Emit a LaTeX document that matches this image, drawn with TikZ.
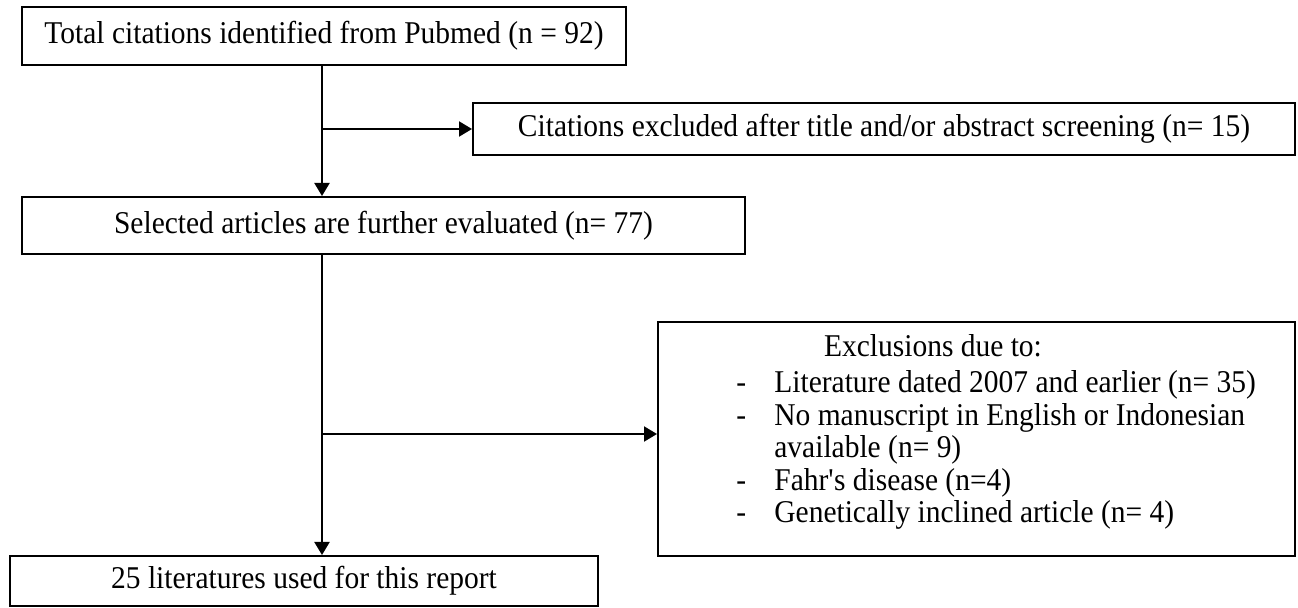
\documentclass[tikz,border=0pt]{standalone}
\usepackage{fontspec}
\setmainfont{Liberation Serif}[FakeStretch=0.93]
\usetikzlibrary{arrows.meta}
\newcommand{\txfont}{\fontsize{15.85}{16.25}\selectfont}
\tikzset{
  box/.style={draw, line width=1pt, inner sep=0pt, font=\txfont, align=center},
  arr/.style={line width=1pt, -{Triangle[length=6.5pt,width=7.5pt]}},
  txt/.style={inner sep=0pt, font=\txfont}
}
\begin{document}
\begin{tikzpicture}
\useasboundingbox (0pt,0pt) rectangle (649pt,-304pt);
\node[box, minimum width=302pt, minimum height=29pt] (b1) at (162pt,-18pt) {Total citations identified from Pubmed (n = 92)};
\node[box, minimum width=411pt, minimum height=26pt] (b2) at (442pt,-64.5pt) {Citations excluded after title and/or abstract screening (n= 15)};
\node[box, minimum width=361.5pt, minimum height=28.5pt] (b3) at (191.75pt,-112.75pt) {Selected articles are further evaluated (n= 77)};
\node[box, minimum width=318.5pt, minimum height=117pt] (b4) at (488.25pt,-219.5pt) {};
\node[box, minimum width=294pt, minimum height=25pt] (b5) at (152pt,-290.5pt) {25 literatures used for this report};
\node[txt, anchor=base] (t4) at (466.5pt,-178.5pt) {Exclusions due to:};
\node[txt, anchor=base west] (d1) at (368pt,-196.5pt) {-};
\node[txt, anchor=base west] (e1) at (387pt,-196.5pt) {Literature dated 2007 and earlier (n= 35)};
\node[txt, anchor=base west] (d2) at (368pt,-212.75pt) {-};
\node[txt, anchor=base west] (e2) at (387pt,-212.75pt) {No manuscript in English or Indonesian};
\node[txt, anchor=base west] (e2b) at (387pt,-229pt) {available (n= 9)};
\node[txt, anchor=base west] (d3) at (368pt,-245.25pt) {-};
\node[txt, anchor=base west] (e3) at (387pt,-245.25pt) {Fahr\textquotesingle s disease (n=4)};
\node[txt, anchor=base west] (d4) at (368pt,-261.5pt) {-};
\node[txt, anchor=base west] (e4) at (387pt,-261.5pt) {Genetically inclined article (n= 4)};
\coordinate (v1) at (161pt,0pt);
\coordinate (j2) at (161pt,-217pt);
\draw[arr] (v1 |- b1.south) -- (v1 |- b3.north);
\draw[arr] (v1 |- b2.west) -- (b2.west);
\draw[arr] (v1 |- b3.south) -- (v1 |- b5.north);
\draw[arr] (j2) -- (j2 -| b4.west);
\end{tikzpicture}
\end{document}
